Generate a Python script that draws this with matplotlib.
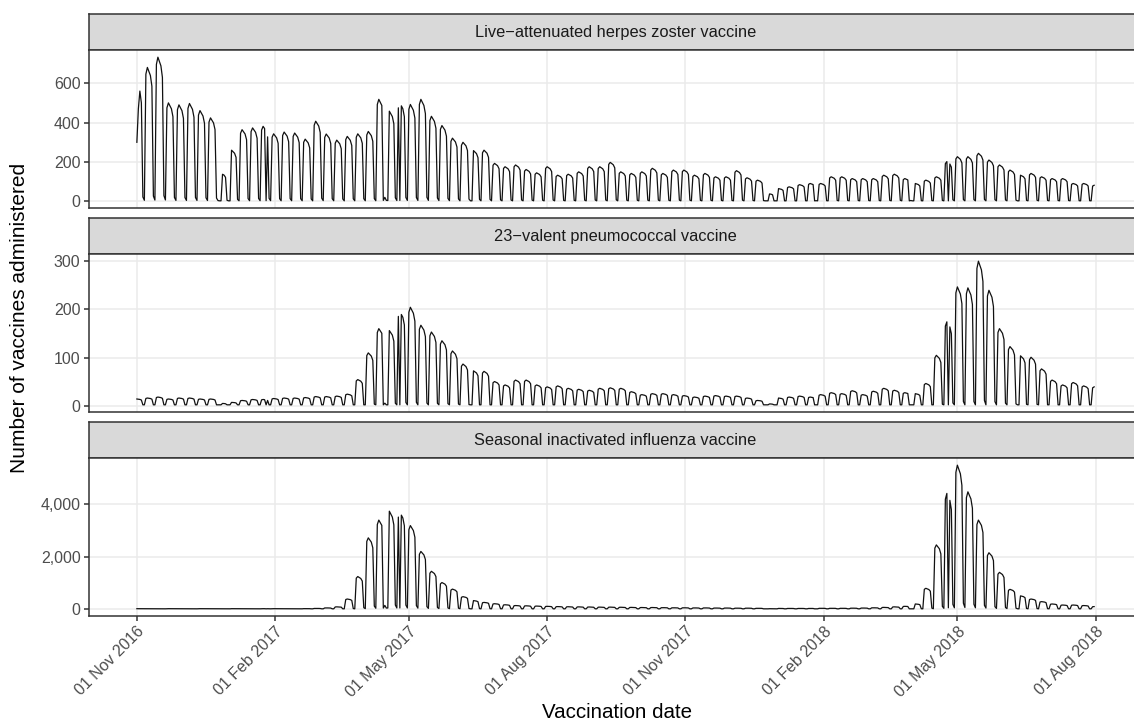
import numpy as np
import pandas as pd
import matplotlib
matplotlib.use("Agg")
import matplotlib.pyplot as plt
import matplotlib.dates as mdates
from matplotlib.ticker import FuncFormatter

# ---------------- data ----------------
start_date = "2016-11-01"
end_date = "2018-07-31"
week0_monday = "2016-10-31"

panel_titles = [
    "Live\u2212attenuated herpes zoster vaccine",
    "23\u2212valent pneumococcal vaccine",
    "Seasonal inactivated influenza vaccine",
]

# weekday level of each Monday-starting week (92 weeks)
hz_weekly = [560, 680, 732, 500, 490, 497, 461, 424, 142, 260,
             364, 373, 381, 343, 352, 347, 316, 407, 342, 311,
             330, 343, 355, 518, 458, 500, 492, 518, 432, 385,
             321, 300, 258, 260, 193, 176, 185, 162, 145, 176,
             133, 138, 150, 176, 176, 198, 150, 142, 150, 168,
             142, 159, 159, 133, 142, 125, 125, 156, 120, 108,
             39, 65, 74, 85, 91, 91, 125, 125, 116, 116,
             116, 133, 138, 116, 91, 108, 125, 202, 227, 227,
             244, 210, 185, 159, 133, 142, 125, 116, 116, 91,
             91, 82]

ppv_weekly = [15, 17, 19, 15, 17, 17, 15, 15, 6, 8,
              12, 14, 14, 16, 17, 17, 18, 20, 20, 21,
              25, 55, 110, 160, 156, 195, 204, 167, 153, 135,
              114, 87, 73, 72, 51, 44, 54, 54, 44, 40,
              42, 37, 35, 33, 37, 38, 37, 30, 24, 26,
              26, 24, 22, 19, 21, 22, 21, 21, 17, 12,
              5, 17, 19, 21, 19, 24, 28, 26, 32, 24,
              31, 37, 33, 28, 26, 47, 105, 174, 246, 244,
              299, 239, 160, 123, 104, 101, 77, 54, 44, 49,
              42, 40]

flu_weekly = [10, 10, 10, 10, 10, 10, 10, 10, 5, 10,
              10, 10, 10, 10, 10, 10, 12, 20, 40, 80,
              380, 1240, 2720, 3400, 3740, 3700, 3190, 2200, 1440, 1010,
              760, 470, 320, 250, 200, 160, 130, 120, 110, 100,
              90, 85, 80, 75, 70, 70, 65, 60, 55, 55,
              50, 45, 45, 40, 40, 35, 35, 30, 30, 25,
              10, 20, 20, 20, 20, 25, 25, 25, 30, 35,
              45, 60, 80, 100, 190, 790, 2450, 4420, 5500, 4480,
              3400, 2150, 1400, 750, 500, 380, 280, 190, 150, 150,
              130, 90]

# relative level Mon..Sun within a week
weekday_profile = [0.95, 1.0, 0.97, 0.94, 0.86, 0.04, 0.01]
weekend_floor = [3, 3, 5]

public_holidays = ["2016-12-26", "2016-12-27", "2017-01-02", "2017-01-26",
                   "2017-04-14", "2017-04-17", "2017-04-25", "2017-06-12",
                   "2017-12-25", "2017-12-26", "2018-01-01", "2018-01-26",
                   "2018-03-30", "2018-04-02", "2018-04-25", "2018-06-11"]

hz_first_days = {"2016-11-01": 300, "2016-11-02": 470,
                 "2016-11-03": 560, "2016-11-04": 500}

y_ticks = [[0, 200, 400, 600], [0, 100, 200, 300], [0, 2000, 4000]]
x_tick_dates = ["2016-11-01", "2017-02-01", "2017-05-01", "2017-08-01",
                "2017-11-01", "2018-02-01", "2018-05-01", "2018-08-01"]

# ---------------- build daily series ----------------
dates = pd.date_range(start_date, end_date, freq="D")
week_idx = np.asarray((dates - pd.Timestamp(week0_monday)).days // 7)
prof = np.array(weekday_profile)[dates.weekday]
hol = dates.isin(pd.to_datetime(public_holidays))
prof[hol] = weekday_profile[6]

series = []
for weekly, floor in zip([hz_weekly, ppv_weekly, flu_weekly], weekend_floor):
    v = np.maximum(np.array(weekly, float)[week_idx] * prof, floor)
    series.append(v)
for d, val in hz_first_days.items():
    series[0][dates.get_loc(pd.Timestamp(d))] = val

# ---------------- figure ----------------
plt.rcParams["font.family"] = ["Liberation Sans", "DejaVu Sans"]
W, H = 1134, 726
fig = plt.figure(figsize=(W / 100, H / 100), dpi=100)

def rect(l, t, r, b):
    return [l / W, 1 - b / H, (r - l) / W, (b - t) / H]

left_px, right_px = 89, 1142
strips = [(14, 50), (218, 254), (422, 458)]
panels = [(50, 208), (254, 412), (458, 616)]

dark = "#333333"
grid = "#EBEBEB"
tickcol = "#4D4D4D"

xnum = mdates.date2num(dates.to_pydatetime())
span = xnum[-1] - xnum[0]
xlim = (xnum[0] - 0.05 * span, xnum[-1] + 0.05 * span)
xt = mdates.date2num(pd.to_datetime(x_tick_dates).to_pydatetime())

for i in range(3):
    st, sb = strips[i]
    axs = fig.add_axes(rect(left_px, st, right_px, sb))
    axs.set_facecolor("#D9D9D9")
    axs.set_xticks([]); axs.set_yticks([])
    for s in axs.spines.values():
        s.set_color(dark); s.set_linewidth(1.1)
    axs.text(0.5, 0.5, panel_titles[i], transform=axs.transAxes,
             ha="center", va="center", fontsize=11.8, color="#1A1A1A")

    pt, pb = panels[i]
    ax = fig.add_axes(rect(left_px, pt, right_px, pb))
    y = series[i]
    ax.plot(xnum, y, color="#111111", lw=0.9, zorder=3)
    ymin, ymax = y.min(), y.max()
    pad = 0.05 * (ymax - ymin)
    ax.set_ylim(ymin - pad, ymax + pad)
    ax.set_xlim(*xlim)
    ax.set_yticks(y_ticks[i])
    ax.yaxis.set_major_formatter(FuncFormatter(lambda v, p: f"{int(v):,}"))
    ax.set_xticks(xt)
    ax.grid(True, color=grid, lw=1.1, zorder=0)
    ax.set_axisbelow(True)
    for s in ax.spines.values():
        s.set_color(dark); s.set_linewidth(1.1)
    ax.tick_params(axis="y", length=3.6, width=1.1, color=dark,
                   labelsize=11.5, labelcolor=tickcol, pad=2.5)
    if i < 2:
        ax.tick_params(axis="x", length=0, labelbottom=False)
    else:
        ax.tick_params(axis="x", length=3.6, width=1.1, color=dark,
                       labelsize=11.5, labelcolor=tickcol, pad=2)
        ax.set_xticklabels(pd.to_datetime(x_tick_dates).strftime("%d %b %Y"),
                           rotation=45, ha="right", va="top",
                           rotation_mode="anchor")

fig.text(617 / W, 1 - 712 / H, "Vaccination date", ha="center", va="center",
         fontsize=14.8, color="black")
fig.text(20 / W, 1 - 318 / H, "Number of vaccines administered", ha="center",
         va="center", rotation=90, fontsize=15, color="black")

fig.savefig("out.png", dpi=100)
